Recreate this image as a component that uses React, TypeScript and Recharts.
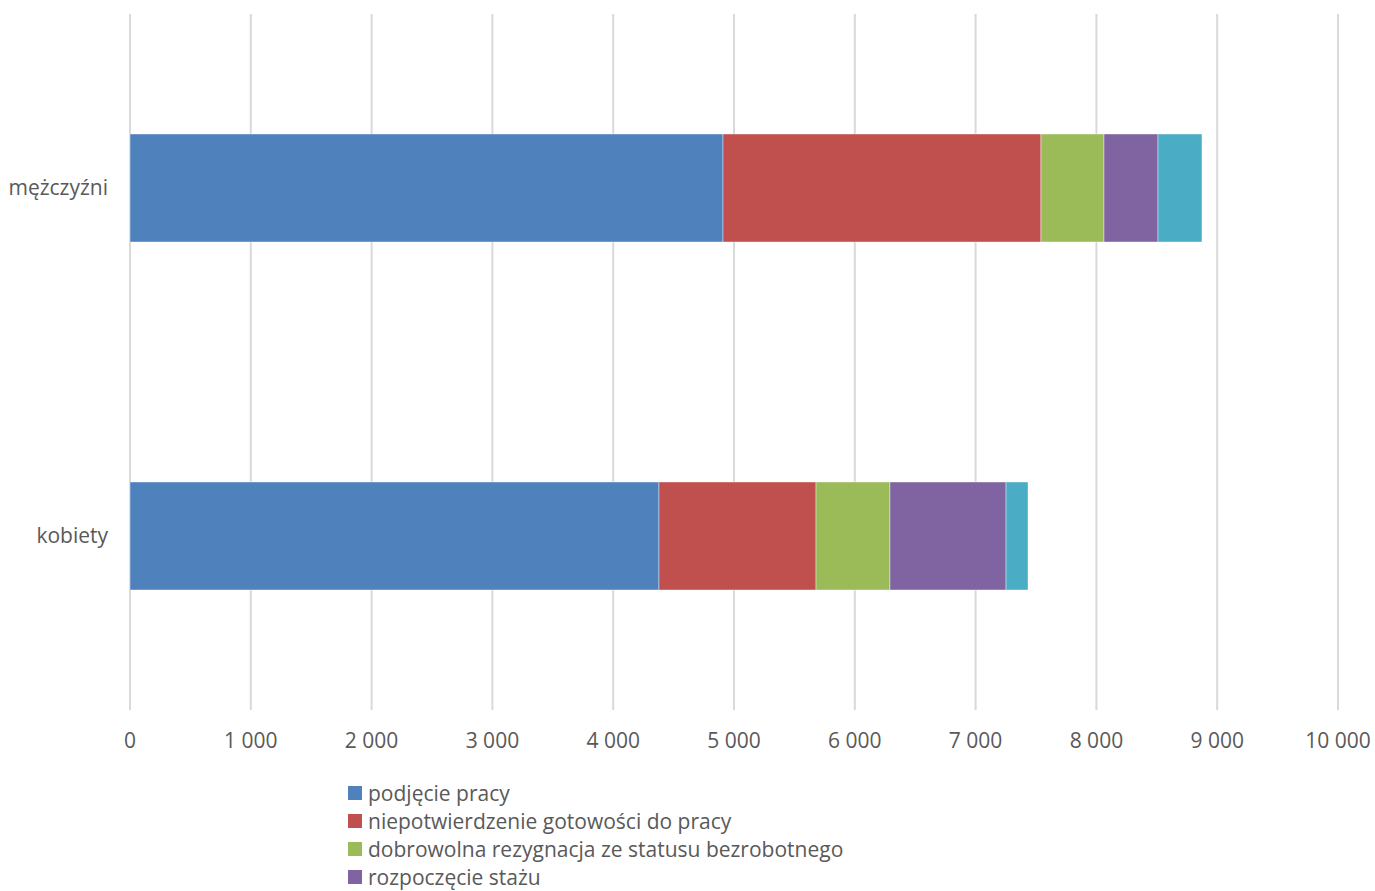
import { BarChart, Bar, XAxis, YAxis, CartesianGrid } from "recharts";

// Categories (top to bottom)
const categories = ["mężczyźni", "kobiety"];

// Series values (same order as categories)
const podjeciePracy = [4909, 4379];
const niepotwierdzenie = [2632, 1300];
const rezygnacja = [522, 612];
const staz = [447, 961];
const inne = [364, 182];

const seriesNames = [
  "podjęcie pracy",
  "niepotwierdzenie gotowości do pracy",
  "dobrowolna rezygnacja ze statusu bezrobotnego",
  "rozpoczęcie stażu",
  "inne",
];
const seriesColors = ["#4F81BD", "#C0504D", "#9BBB59", "#8064A2", "#4BACC6"];
const seriesValues = [podjeciePracy, niepotwierdzenie, rezygnacja, staz, inne];

const xTicks = [0, 1000, 2000, 3000, 4000, 5000, 6000, 7000, 8000, 9000, 10000];

const data = categories.map((name, i) => {
  const row: any = { name };
  seriesValues.forEach((vals, s) => {
    row[`s${s}`] = vals[i];
  });
  return row;
});

const FONT = "'Open Sans', sans-serif";
const TEXT = "#595959";

// thousands separated with a space, like the original
const fmt = (v: number) => String(v).replace(/\B(?=(\d{3})+(?!\d))/g, " ");

// legend drawn as plain html below the plot, one row per series
const LegendList = () => (
  <div
    style={{
      position: "absolute",
      left: 348,
      top: 779,
      fontFamily: FONT,
      fontSize: 21,
      lineHeight: "28px",
      color: TEXT,
    }}
  >
    {seriesNames.map((name, i) => (
      <div key={name} style={{ display: "flex", alignItems: "center", height: 28 }}>
        <div
          style={{
            width: 14,
            height: 14,
            backgroundColor: seriesColors[i],
            marginRight: 6,
          }}
        />
        <span>{name}</span>
      </div>
    ))}
  </div>
);

export default function App() {
  return (
    <div
      style={{
        position: "absolute",
        left: 0,
        top: 0,
        width: 1375,
        height: 891,
        overflow: "hidden",
        background: "#fff",
      }}
    >
      <BarChart
        width={1375}
        height={780}
        data={data}
        layout="vertical"
        margin={{ top: 14, right: 37, left: 0, bottom: 10 }}
        barSize={108}
      >
        <CartesianGrid horizontal={false} stroke="#d9d9d9" strokeWidth={2} />
        <XAxis
          type="number"
          domain={[0, 10000]}
          ticks={xTicks}
          tickFormatter={fmt}
          axisLine={false}
          tickLine={false}
          tickMargin={17}
          height={60}
          interval={0}
          tick={{ fill: TEXT, fontSize: 21, fontFamily: FONT }}
        />
        <YAxis
          type="category"
          dataKey="name"
          width={130}
          axisLine={false}
          tickLine={false}
          tickMargin={16}
          tick={{ fill: TEXT, fontSize: 21, fontFamily: FONT }}
        />
        {seriesNames.map((name, s) => (
          <Bar
            key={name}
            dataKey={`s${s}`}
            name={name}
            stackId="a"
            fill={seriesColors[s]}
            stroke="#ffffff"
            strokeOpacity={0.4}
            strokeWidth={1}
            isAnimationActive={false}
          />
        ))}
      </BarChart>
      <LegendList />
    </div>
  );
}
